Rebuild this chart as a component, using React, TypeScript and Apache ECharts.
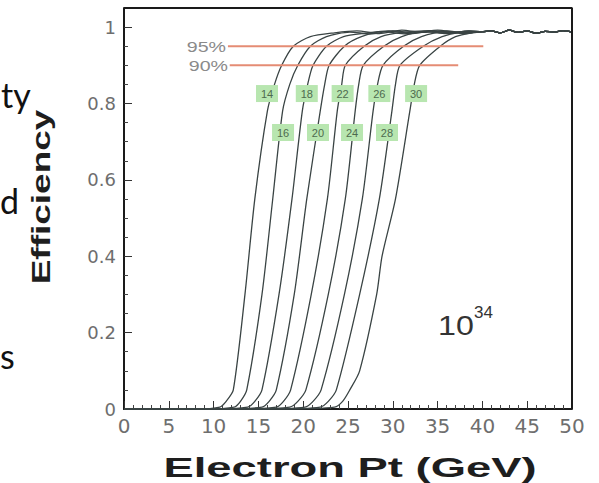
import React, { useEffect, useRef } from "react";
import * as echarts from "echarts";

// Threshold labels of the nine turn-on curves (GeV)
const thresholds = ["14", "16", "18", "20", "22", "24", "26", "28", "30"];

// Efficiency vs Electron Pt (GeV): [pt, efficiency]
const curve14 = [[0, 0], [8, 0], [10.7, 0.005], [11.4, 0.02], [12.2, 0.05], [13.5, 0.3], [14.6, 0.55], [16.0, 0.78], [16.8, 0.85], [17.6, 0.9], [18.9, 0.95], [20.8, 0.975], [23.5, 0.985], [26, 0.99], [28.5, 0.983], [31, 0.992], [33.5, 0.986], [36, 0.99], [38, 0.985]];
const curve16 = [[0, 0], [9, 0], [12.3, 0.005], [13.0, 0.02], [13.7, 0.05], [15.4, 0.3], [16.6, 0.55], [17.7, 0.78], [18.5, 0.85], [19.4, 0.9], [20.8, 0.95], [22.6, 0.975], [25.2, 0.987], [27.5, 0.982], [30, 0.99], [32.5, 0.985], [35, 0.992], [37.5, 0.986]];
const curve18 = [[0, 0], [10, 0], [13.8, 0.005], [14.6, 0.02], [15.4, 0.05], [17.3, 0.3], [18.75, 0.55], [19.9, 0.78], [20.5, 0.85], [21.1, 0.9], [22.6, 0.95], [24.5, 0.975], [27, 0.984], [29.5, 0.99], [32, 0.983], [34.5, 0.99], [37, 0.986]];
const curve20 = [[0, 0], [11, 0], [15.4, 0.005], [16.2, 0.02], [17.0, 0.05], [19.0, 0.3], [20.4, 0.55], [21.9, 0.78], [22.4, 0.85], [22.9, 0.9], [24.6, 0.95], [26.5, 0.975], [29, 0.988], [31.5, 0.982], [34, 0.991], [36.5, 0.985], [38.5, 0.989]];
const curve22 = [[0, 0], [13, 0], [17.0, 0.005], [17.8, 0.02], [18.6, 0.05], [20.9, 0.3], [22.7, 0.55], [23.8, 0.78], [24.3, 0.85], [24.7, 0.9], [26.8, 0.95], [28.7, 0.975], [31, 0.986], [33.5, 0.99], [36, 0.984], [38.5, 0.99]];
const curve24 = [[0, 0], [14, 0], [18.5, 0.005], [19.4, 0.02], [20.3, 0.05], [22.8, 0.3], [24.7, 0.55], [25.8, 0.78], [26.2, 0.85], [26.7, 0.9], [29.0, 0.95], [31, 0.975], [33.5, 0.988], [36, 0.983], [38.5, 0.99]];
const curve26 = [[0, 0], [15, 0], [20.2, 0.005], [21.1, 0.02], [22.0, 0.05], [24.6, 0.3], [26.6, 0.55], [27.8, 0.78], [28.3, 0.85], [28.9, 0.9], [31.2, 0.95], [33.2, 0.975], [35.5, 0.987], [38, 0.983]];
const curve28 = [[0, 0], [17, 0], [21.9, 0.005], [22.8, 0.02], [23.7, 0.05], [26.3, 0.3], [28.5, 0.55], [29.9, 0.78], [30.3, 0.85], [30.8, 0.9], [33.4, 0.95], [35.5, 0.975], [37.5, 0.986]];
const curve30 = [[0, 0], [18, 0], [23.5, 0.005], [24.4, 0.02], [25.2, 0.05], [26.3, 0.1], [28.2, 0.3], [28.8, 0.4], [30.3, 0.55], [31.9, 0.78], [32.4, 0.85], [33.0, 0.9], [35.3, 0.95], [37, 0.975], [39, 0.986]];

// Common plateau where all curves overlap (pt >= 40)
const plateauTail = [[40, 0.988], [41, 0.99], [42, 0.985], [43, 0.992], [44, 0.986], [45, 0.99], [46, 0.984], [47, 0.989], [48, 0.987], [49, 0.991], [50, 0.987]];

// Reference efficiency lines
const line95 = [[11.6, 0.95], [40.1, 0.95]];
const line90 = [[11.8, 0.9], [37.3, 0.9]];

// Axis ranges (the frame's top and right sides follow them)
const xMin = 0;
const xMax = 50;
const yMin = 0;
const yMax = 1.05;

// Where each threshold tag sits on its curve [pt, efficiency]
const tagPt = [15.96, 17.75, 20.4, 21.65, 24.4, 25.45, 28.5, 29.35, 32.6];
const tagEff = [0.826, 0.724, 0.826, 0.724, 0.826, 0.724, 0.826, 0.724, 0.826];

const curves = [curve14, curve16, curve18, curve20, curve22, curve24, curve26, curve28, curve30];

export default function App() {
  const ref = useRef<HTMLDivElement>(null);

  useEffect(() => {
    if (!ref.current) return;
    const chart = echarts.init(ref.current, null, { renderer: "svg" });

    const curveSeries = curves.map((c, i) => ({
      type: "line",
      name: thresholds[i] + " GeV",
      data: c.concat(plateauTail),
      symbol: "none",
      smooth: 0.25,
      lineStyle: { color: "#3a4444", width: 1.3 },
      z: 3,
      markPoint: {
        symbol: "rect",
        symbolSize: [22, 17],
        itemStyle: { color: "#b8e6b0" },
        label: { show: true, color: "#4e6a4e", fontSize: 11, fontFamily: "Liberation Sans" },
        data: [{ coord: [tagPt[i], tagEff[i]], value: thresholds[i] }],
      },
    }));

    const refLine = (d: number[][]) => ({
      type: "line",
      data: d,
      symbol: "none",
      lineStyle: { color: "#e58c74", width: 2 },
      z: 4,
    });

    // top and right sides of the plot frame
    const frameSeries = {
      type: "line",
      data: [[xMin, yMax], [xMax, yMax], [xMax, yMin]],
      symbol: "none",
      silent: true,
      clip: false,
      lineStyle: { color: "#1a1a1a", width: 2 },
      z: 5,
    };

    const txt = (
      text: string,
      x: number,
      y: number,
      size: number,
      opts: any = {}
    ) => ({
      type: "text",
      x,
      y,
      rotation: opts.rotation || 0,
      scaleX: opts.scaleX || 1,
      scaleY: opts.scaleY || 1,
      z: 10,
      style: {
        text,
        fontSize: size,
        fontFamily: opts.family || "Liberation Sans",
        fontWeight: opts.weight || "normal",
        fill: opts.color || "#111",
        textAlign: opts.align || "left",
        align: opts.align || "left",
        textVerticalAlign: opts.valign || "middle",
        verticalAlign: opts.valign || "middle",
      },
    });

    chart.setOption({
      animation: false,
      grid: {
        left: 124,
        right: 27,
        top: 8,
        bottom: 74,
      },
      xAxis: {
        type: "value",
        min: xMin,
        max: xMax,
        interval: 5,
        axisLine: { show: true, onZero: false, lineStyle: { color: "#1a1a1a", width: 2 } },
        axisTick: { show: true, inside: true, length: 8, lineStyle: { color: "#333" } },
        minorTick: { show: true, splitNumber: 5, length: 4, lineStyle: { color: "#444" } },
        splitLine: { show: false },
        axisLabel: { fontFamily: "DejaVu Sans", fontSize: 20, color: "#6e6e6e", margin: 7 },
      },
      yAxis: {
        type: "value",
        min: yMin,
        max: yMax,
        interval: 0.2,
        axisLine: { show: true, onZero: false, lineStyle: { color: "#1a1a1a", width: 2 } },
        axisTick: { show: true, inside: true, length: 8, lineStyle: { color: "#333" } },
        minorTick: { show: true, splitNumber: 4, length: 4, lineStyle: { color: "#444" } },
        splitLine: { show: false },
        axisLabel: {
          fontFamily: "DejaVu Sans",
          fontSize: 18,
          color: "#6e6e6e",
          margin: 8,
          formatter: (v: number) =>
            Math.abs(v * 5 - Math.round(v * 5)) < 1e-6 ? String(Math.round(v * 10) / 10) : "",
        },
      },
      series: [frameSeries, refLine(line95), refLine(line90), ...curveSeries],
      graphic: [
        txt("95%", 226, 47, 14, { align: "right", color: "#8a8a8a", scaleX: 1.4 }),
        txt("90%", 228, 66, 14, { align: "right", color: "#8a8a8a", scaleX: 1.4 }),
        txt("10", 438, 325, 28, { color: "#333", scaleX: 1.15 }),
        txt("34", 474, 312, 17, { color: "#333" }),
        txt("Electron Pt (GeV)", 350, 467, 28, { align: "center", weight: "bold", color: "#1e1e1e", scaleX: 1.62 }),
        txt("Efficiency", 41, 197, 25, { align: "center", weight: "bold", color: "#1e1e1e", rotation: Math.PI / 2, scaleX: 1.48 }),
        txt("ty", 1, 94, 34, { family: "Lato", color: "#111" }),
        txt("d", 0, 200, 34, { family: "Lato", color: "#111" }),
        txt("s", 0, 355, 34, { family: "Lato", color: "#111" }),
      ],
    });

    return () => chart.dispose();
  }, []);

  return (
    <div
      ref={ref}
      style={{ position: "absolute", left: 0, top: 0, width: 599, height: 483, background: "#fff" }}
    />
  );
}
